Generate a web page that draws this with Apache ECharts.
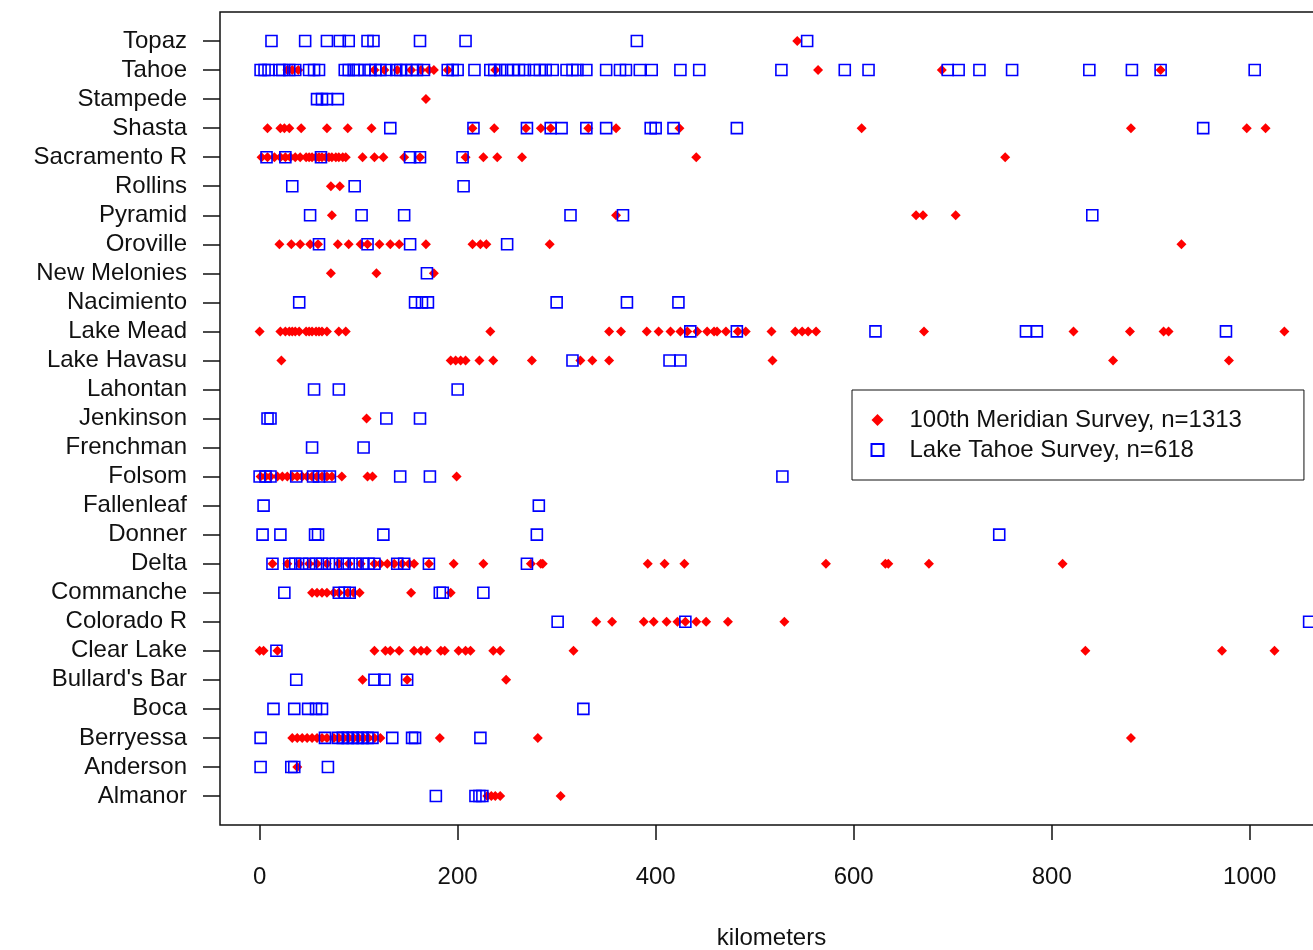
<!DOCTYPE html>
<html>
<head>
	<title>Lake distances</title>
	<meta charset="utf-8">
	<script src="https://cdn.jsdelivr.net/npm/echarts@6/dist/echarts.min.js"></script>
	<style>
		html, body { margin: 0; padding: 0; background: #fff; }
		#chart { width: 1313px; height: 950px; }
	</style>
</head>
<body>
	<div id="chart"></div>
<script>
	// lakes, bottom to top
	var lakes = ['Almanor', 'Anderson', 'Berryessa', 'Boca', "Bullard's Bar", 'Clear Lake',
		'Colorado R', 'Commanche', 'Delta', 'Donner', 'Fallenleaf', 'Folsom', 'Frenchman',
		'Jenkinson', 'Lahontan', 'Lake Havasu', 'Lake Mead', 'Nacimiento', 'New Melonies',
		'Oroville', 'Pyramid', 'Rollins', 'Sacramento R', 'Shasta', 'Stampede', 'Tahoe', 'Topaz'];

	var xTicks = [0, 200, 400, 600, 800, 1000];

	// km values, 100th Meridian Survey (mer) and Lake Tahoe Survey (lt)
	var merAlmanor = [230, 234, 238, 243, 304];
	var ltAlmanor = [178, 218, 222, 225];
	var merAnderson = [38];
	var ltAnderson = [1, 32, 35, 69];
	var merBerryessa = [33, 38, 43, 48, 53, 58, 63, 68, 75, 80, 85, 90, 95, 100, 105, 110, 116, 122, 182, 281, 880];
	var ltBerryessa = [1, 66, 79, 84, 89, 94, 99, 104, 109, 114, 134, 154, 157, 223];
	var merBoca = [];
	var ltBoca = [14, 35, 49, 57, 63, 327];
	var merBullards = [104, 149, 249];
	var ltBullards = [37, 116, 126, 149];
	var merClear = [0, 4, 18, 116, 127, 132, 141, 156, 163, 169, 183, 187, 201, 208, 213, 236, 243, 317, 834, 972, 1025];
	var ltClear = [17];
	var merColorado = [340, 356, 388, 398, 411, 422, 430, 441, 451, 473, 530];
	var ltColorado = [301, 430, 1060];
	var merCommanche = [53, 58, 63, 68, 75, 80, 89, 95, 101, 153, 193];
	var ltCommanche = [25, 80, 86, 91, 182, 185, 226];
	var merDelta = [13, 28, 40, 50, 58, 68, 80, 90, 102, 116, 122, 129, 136, 144, 151, 156, 171, 196, 226, 274, 284, 286, 392, 409, 429, 572, 632, 635, 676, 811];
	var ltDelta = [13, 30, 36, 43, 50, 57, 63, 70, 77, 84, 90, 97, 104, 110, 116, 139, 146, 171, 270];
	var merDonner = [];
	var ltDonner = [3, 21, 56, 59, 125, 280, 747];
	var merFallenleaf = [];
	var ltFallenleaf = [4, 282];
	var merFolsom = [1, 6, 11, 18, 23, 28, 33, 38, 43, 48, 53, 58, 63, 68, 73, 83, 109, 114, 199];
	var ltFolsom = [0, 6, 11, 37, 54, 60, 71, 142, 172, 528];
	var merFrenchman = [];
	var ltFrenchman = [53, 105];
	var merJenkinson = [108];
	var ltJenkinson = [8, 11, 128, 162];
	var merLahontan = [];
	var ltLahontan = [55, 80, 200];
	var merHavasu = [22, 193, 198, 203, 208, 222, 236, 275, 324, 336, 353, 518, 862, 979];
	var ltHavasu = [316, 414, 425];
	var merMead = [0, 21, 26, 30, 33, 36, 40, 47, 50, 53, 57, 60, 63, 68, 80, 87, 233, 353, 365, 391, 403, 415, 425, 432, 442, 452, 459, 462, 471, 483, 491, 517, 541, 548, 554, 562, 671, 822, 879, 913, 918, 1035];
	var ltMead = [435, 482, 622, 774, 785, 976];
	var merNacimiento = [];
	var ltNacimiento = [40, 157, 164, 170, 300, 371, 423];
	var merMelonies = [72, 118, 176];
	var ltMelonies = [169];
	var merOroville = [20, 32, 41, 51, 59, 79, 90, 102, 109, 121, 132, 141, 168, 215, 223, 229, 293, 931];
	var ltOroville = [60, 109, 152, 250];
	var merPyramid = [73, 360, 663, 670, 703];
	var ltPyramid = [51, 103, 146, 314, 367, 841];
	var merRollins = [72, 81];
	var ltRollins = [33, 96, 206];
	var merSacramento = [2, 8, 15, 21, 26, 31, 36, 41, 47, 50, 53, 57, 60, 63, 67, 70, 73, 77, 80, 84, 87, 104, 116, 125, 146, 162, 208, 226, 240, 265, 441, 753];
	var ltSacramento = [7, 26, 62, 152, 162, 205];
	var merShasta = [8, 21, 25, 30, 42, 68, 89, 113, 215, 237, 269, 284, 294, 332, 360, 424, 608, 880, 997, 1016];
	var ltShasta = [132, 216, 270, 294, 305, 330, 350, 395, 400, 418, 482, 953];
	var merStampede = [168];
	var ltStampede = [58, 63, 68, 79];
	var merTahoe = [28, 33, 39, 116, 126, 139, 153, 163, 171, 176, 190, 238, 564, 689, 910];
	var ltTahoe = [1, 5, 9, 20, 23, 30, 36, 50, 55, 60, 86, 90, 95, 99, 106, 112, 117, 122, 128, 138, 142, 148, 154, 159, 166, 190, 195, 200, 217, 233, 237, 243, 250, 256, 262, 268, 277, 283, 289, 296, 310, 316, 321, 330, 350, 364, 370, 384, 396, 425, 444, 527, 591, 615, 695, 706, 727, 760, 838, 881, 910, 1005];
	var merTopaz = [543];
	var ltTopaz = [12, 46, 68, 81, 90, 109, 115, 162, 208, 381, 553];

	// same order as lakes
	var merByLake = [merAlmanor, merAnderson, merBerryessa, merBoca, merBullards, merClear,
		merColorado, merCommanche, merDelta, merDonner, merFallenleaf, merFolsom, merFrenchman,
		merJenkinson, merLahontan, merHavasu, merMead, merNacimiento, merMelonies,
		merOroville, merPyramid, merRollins, merSacramento, merShasta, merStampede, merTahoe, merTopaz];
	var ltByLake = [ltAlmanor, ltAnderson, ltBerryessa, ltBoca, ltBullards, ltClear,
		ltColorado, ltCommanche, ltDelta, ltDonner, ltFallenleaf, ltFolsom, ltFrenchman,
		ltJenkinson, ltLahontan, ltHavasu, ltMead, ltNacimiento, ltMelonies,
		ltOroville, ltPyramid, ltRollins, ltSacramento, ltShasta, ltStampede, ltTahoe, ltTopaz];

	function toPoints(byLake) {
		var pts = [];
		for (var i = 0; i < byLake.length; i++) {
			for (var j = 0; j < byLake[i].length; j++) {
				pts.push([byLake[i][j], i + 1]);
			}
		}
		return pts;
	}

	// empty slot at each end gives the padding above Topaz and below Almanor
	var yCats = [''].concat(lakes).concat(['']);
	var font = "'Liberation Sans', Arial, sans-serif";

	var option = {
		animation: false,
		backgroundColor: '#fff',
		grid: {
			left: 220, top: 12, width: 1103, height: 813,
			outerBoundsMode: 'none',
			show: true, borderColor: '#111', borderWidth: 1.5
		},
		legend: {
			orient: 'vertical',
			left: 852, top: 390,
			borderColor: '#111', borderWidth: 1,
			padding: [18, 62, 18, 17],
			itemWidth: 12, itemHeight: 12, itemGap: 6,
			textStyle: { fontFamily: font, fontSize: 24, color: '#111',
				padding: [0, 0, 0, 21] },
			data: ['100th Meridian Survey, n=1313', 'Lake Tahoe Survey, n=618']
		},
		xAxis: {
			type: 'value', min: -40, max: 1074,
			name: 'kilometers', nameLocation: 'middle', nameGap: 101,
			nameTextStyle: { fontFamily: font, fontSize: 24, color: '#111' },
			axisLine: { show: false },
			axisTick: { show: true, customValues: xTicks, length: 15, lineStyle: { color: '#111', width: 1.5 } },
			axisLabel: { customValues: xTicks, margin: 40, fontFamily: font, fontSize: 24, color: '#111',
				formatter: function (v) { return String(v); } },
			splitLine: { show: false }
		},
		yAxis: {
			type: 'category', data: yCats, boundaryGap: false,
			axisLine: { show: false, onZero: false },
			axisTick: { show: true, length: 17, interval: function (i, v) { return v !== ''; },
				lineStyle: { color: '#111', width: 1.5 } },
			axisLabel: { interval: function (i, v) { return v !== ''; }, margin: 33,
				padding: [5, 0, 0, 0],
				fontFamily: font, fontSize: 24, color: '#111' },
			splitLine: { show: false }
		},
		series: [{
			name: '100th Meridian Survey, n=1313',
			type: 'scatter',
			symbol: 'diamond', symbolSize: 10,
			itemStyle: { color: '#ff0000', opacity: 1 },
			data: toPoints(merByLake)
		}, {
			name: 'Lake Tahoe Survey, n=618',
			type: 'scatter',
			symbol: 'rect', symbolSize: 11,
			itemStyle: { color: 'none', borderColor: '#0000ff', borderWidth: 1.6, opacity: 1 },
			data: toPoints(ltByLake)
		}]
	};

	var chart = echarts.init(document.getElementById('chart'));
	chart.setOption(option);
</script>
</body>
</html>
